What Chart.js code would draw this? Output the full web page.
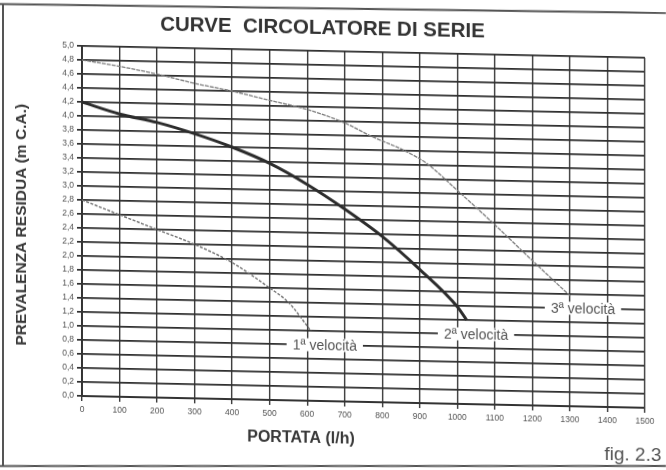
<!DOCTYPE html>
<html>
<head>
<meta charset="utf-8">
<script src="https://cdn.jsdelivr.net/npm/chart.js@4/dist/chart.umd.min.js"></script>
<style>
  html, body { margin: 0; padding: 0; background: #fff; overflow: hidden; }
  #wrap { position: absolute; left: 0; top: 0; width: 666px; height: 470px;
          transform: skewY(1.2deg); transform-origin: 82px 0; }
  canvas { display: block; }
</style>
</head>
<body>
<div id="wrap"><canvas id="c" width="666" height="470"></canvas></div>
<script>
// Portata (l/h) and prevalenza residua (m C.A.) for each speed
const flowV1 = [0, 100, 200, 300, 400, 500, 550, 610];
const headV1 = [2.8, 2.6, 2.4, 2.2, 1.95, 1.6, 1.4, 1.0];

const flowV2 = [0, 100, 200, 300, 400, 500, 600, 700, 800, 900, 1000, 1025];
const headV2 = [4.2, 4.04, 3.93, 3.78, 3.6, 3.38, 3.09, 2.75, 2.37, 1.91, 1.39, 1.2];

const flowV3 = [0, 100, 200, 300, 400, 500, 600, 700, 770, 860, 920, 1000, 1100, 1200, 1300];
const headV3 = [4.8, 4.72, 4.62, 4.5, 4.4, 4.28, 4.16, 3.98, 3.8, 3.6, 3.42, 3.05, 2.57, 2.07, 1.58];

const seriesNames = ['1ª velocità', '2ª velocità', '3ª velocità'];

// Axis ticks
const xTickValues = [0, 100, 200, 300, 400, 500, 600, 700, 800, 900, 1000, 1100, 1200, 1300, 1400, 1500];
const xTickLabels = ['0', '100', '200', '300', '400', '500', '600', '700', '800', '900', '1000', '1100', '1200', '1300', '1400', '1500'];
const yTickValues = [0, 0.2, 0.4, 0.6, 0.8, 1.0, 1.2, 1.4, 1.6, 1.8, 2.0, 2.2, 2.4, 2.6, 2.8, 3.0,
                     3.2, 3.4, 3.6, 3.8, 4.0, 4.2, 4.4, 4.6, 4.8, 5.0];
const yTickLabels = ['0,0', '0,2', '0,4', '0,6', '0,8', '1,0', '1,2', '1,4', '1,6', '1,8', '2,0', '2,2', '2,4', '2,6', '2,8', '3,0',
                     '3,2', '3,4', '3,6', '3,8', '4,0', '4,2', '4,4', '4,6', '4,8', '5,0'];

// Where each speed label sits on the grid (data units)
const labelAnchors = [
  { flow: 647,  head: 0.8 },
  { flow: 1050, head: 1.0 },
  { flow: 1335, head: 1.4 }
];

const FONT = '"Liberation Sans", Arial, Helvetica, sans-serif';
Chart.defaults.font.family = FONT;

const toPoints = (xs, ys) => xs.map((x, i) => ({ x: x, y: ys[i] }));

const decor = {
  id: 'decor',
  beforeDraw(chart) {
    const ctx = chart.ctx;
    ctx.save();
    ctx.fillStyle = '#ffffff';
    ctx.fillRect(0, 0, chart.width, chart.height);
    ctx.restore();
  },
  afterDatasetsDraw(chart) {
    const { ctx, scales: { x, y } } = chart;
    ctx.save();
    ctx.font = '14px ' + FONT;
    ctx.textAlign = 'center';
    ctx.textBaseline = 'middle';
    labelAnchors.forEach((a, i) => {
      const px = x.getPixelForValue(a.flow);
      const py = y.getPixelForValue(a.head);
      const w = ctx.measureText(seriesNames[i]).width + 12;
      const h = y.getPixelForValue(a.head - 0.1) - y.getPixelForValue(a.head + 0.1) - 1;
      ctx.fillStyle = '#ffffff';
      ctx.fillRect(px - w / 2, py - h / 2, w, h);
      ctx.fillStyle = '#555555';
      ctx.fillText(seriesNames[i], px, py + 1);
    });
    ctx.restore();
  },
  afterDraw(chart) {
    const ctx = chart.ctx;
    ctx.save();
    // axis titles
    ctx.fillStyle = '#383838';
    ctx.textAlign = 'center';
    ctx.textBaseline = 'middle';
    ctx.font = 'bold 15.5px ' + FONT;
    ctx.save();
    ctx.translate(22, 226);
    ctx.rotate(-Math.PI / 2);
    ctx.fillText('PREVALENZA RESIDUA (m C.A.)', 0, 0);
    ctx.restore();
    ctx.font = 'bold 16px ' + FONT;
    ctx.fillText('PORTATA (l/h)', 301, 433.5);
    ctx.font = '19px ' + FONT;
    ctx.fillStyle = '#555555';
    ctx.fillText('fig. 2.3', 633, 443.5);
    // outer frame
    ctx.strokeStyle = '#555555';
    ctx.lineWidth = 2;
    ctx.beginPath();
    ctx.moveTo(0, 5.7); ctx.lineTo(666, 0.7);
    ctx.moveTo(3, 5.7); ctx.lineTo(3, 467.7);
    ctx.moveTo(0, 467.7); ctx.lineTo(666, 453.7);
    ctx.stroke();
    ctx.restore();
  }
};

new Chart(document.getElementById('c'), {
  type: 'line',
  data: {
    datasets: [
      { label: seriesNames[0], data: toPoints(flowV1, headV1),
        borderColor: '#6e6e6e', borderWidth: 1.4, borderDash: [3, 1.5] },
      { label: seriesNames[1], data: toPoints(flowV2, headV2),
        borderColor: '#2c2c2c', borderWidth: 3 },
      { label: seriesNames[2], data: toPoints(flowV3, headV3),
        borderColor: '#7c7c7c', borderWidth: 1.3, borderDash: [4, 1] }
    ]
  },
  options: {
    responsive: false,
    animation: false,
    devicePixelRatio: 1,
    events: [],
    layout: { padding: { top: 0, left: 0, right: 21, bottom: 0 } },
    elements: {
      point: { radius: 0 },
      line: { cubicInterpolationMode: 'monotone', fill: false }
    },
    plugins: {
      legend: { display: false },
      tooltip: { enabled: false },
      title: {
        display: true,
        text: 'CURVE  CIRCOLATORE DI SERIE',
        color: '#333333',
        font: { size: 20.5, weight: 'bold', lineHeight: 1.2 },
        padding: { top: 11.5, bottom: 9.9 }
      }
    },
    scales: {
      x: {
        type: 'linear',
        min: 0, max: 1500,
        afterBuildTicks: s => { s.ticks = xTickValues.map(v => ({ value: v })); },
        afterFit: s => { s.height = 74; },
        ticks: {
          callback: (v, i) => xTickLabels[i],
          color: '#555555', font: { size: 8.5 }, padding: 4,
          maxRotation: 0, autoSkip: false
        },
        grid: { color: '#3a3a3a', lineWidth: 1.4, tickLength: 5 },
        border: { color: '#333333', width: 2 }
      },
      y: {
        type: 'linear',
        min: 0, max: 5,
        afterBuildTicks: s => { s.ticks = yTickValues.map(v => ({ value: v })); },
        afterFit: s => { s.width = 82; },
        ticks: {
          callback: (v, i) => yTickLabels[i],
          color: '#555555', font: { size: 8.5 }, padding: 3, autoSkip: false
        },
        grid: { color: '#2e2e2e', lineWidth: 1.7, tickLength: 5 },
        border: { color: '#333333', width: 2 }
      }
    }
  },
  plugins: [decor]
});
</script>
</body>
</html>
